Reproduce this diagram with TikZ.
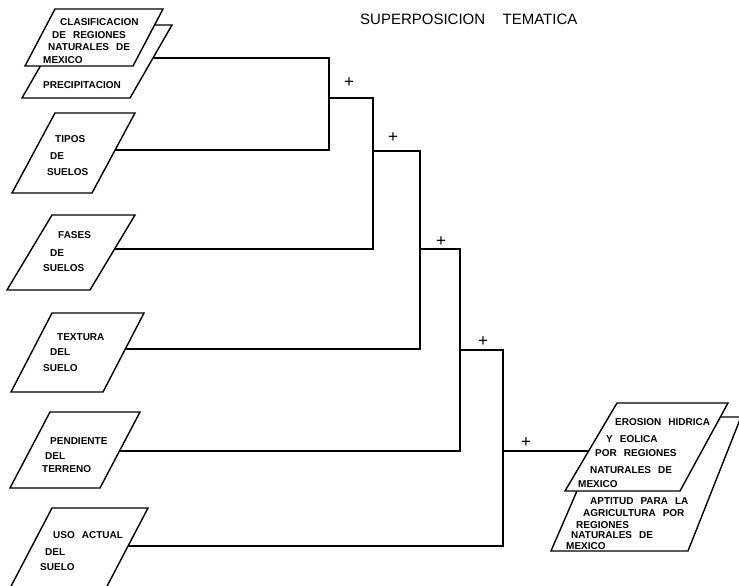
\documentclass[tikz,border=0pt]{standalone}
\usepackage{fontspec}
\setmainfont{Liberation Sans}
\usepackage{tikz}
\usetikzlibrary{positioning}
\newcommand\lblfont{\fontsize{10}{12}\selectfont\bfseries\spaceskip=7pt plus 1pt minus 1pt\relax}
\newcommand\titfont{\fontsize{15}{17}\selectfont}

\begin{document}
\begin{tikzpicture}[x=1pt, y=-1pt, node distance=0.1cm,
  conn/.style={line width=2.3pt},
  sheet/.style={line width=1.4pt, fill=white},
  lbl/.style={anchor=west, inner sep=0pt, font=\lblfont},
  sgn/.style={inner sep=0pt, font=\fontsize{17}{17}\selectfont}]

\useasboundingbox (0,0) rectangle (739,586);

% title
\node [anchor=west, inner sep=0pt, font=\titfont] (tit1) at (360,19) {SUPERPOSICION};
\node [right = 17pt of tit1, inner sep=0pt, font=\titfont] (tit2) {TEMATICA};

% first pair of sheets
\draw [sheet] (64,25) -- (172,25) -- (130,98) -- (22,98) -- cycle;
\node [lbl] (prec) at (43,85) {PRECIPITACION};
\draw [sheet] (55,9) -- (163,9) -- (133,66) -- (25,66) -- cycle;
\node [lbl] (clas1) at (60,22) {CLASIFICACION};
\node [lbl] (clas2) at (52,35) {DE REGIONES};
\node [lbl] (clas3) at (48,47) {NATURALES DE};
\node [lbl] (clas4) at (43,60) {MEXICO};

% other input sheets
\draw [sheet] (55,113) -- (135,113) -- (92,193) -- (12,193) -- cycle;
\node [lbl] (tip1) at (55,139) {TIPOS};
\node [lbl] (tip2) at (50,156) {DE};
\node [lbl] (tip3) at (47,172) {SUELOS};

\draw [sheet] (52,215) -- (135,215) -- (90,290) -- (7,290) -- cycle;
\node [lbl] (fas1) at (58,235) {FASES};
\node [lbl] (fas2) at (50,253) {DE};
\node [lbl] (fas3) at (43,268) {SUELOS};

\draw [sheet] (52,313) -- (144,313) -- (103,392) -- (11,392) -- cycle;
\node [lbl] (tex1) at (57,337) {TEXTURA};
\node [lbl] (tex2) at (50,352) {DEL};
\node [lbl] (tex3) at (43,368) {SUELO};

\draw [sheet] (50,412) -- (140,412) -- (100,488) -- (10,488) -- cycle;
\node [lbl] (pen1) at (50,441) {PENDIENTE};
\node [lbl] (pen2) at (45,456) {DEL};
\node [lbl] (pen3) at (42,469) {TERRENO};

\draw [sheet] (52,508) -- (148,508) -- (104,592) -- (8,592) -- cycle;
\node [lbl] (uso1) at (53,535) {USO ACTUAL};
\node [lbl] (uso2) at (45,552) {DEL};
\node [lbl] (uso3) at (40,567) {SUELO};

% result sheets
\draw [sheet] (609,417) -- (741,417) -- (688,551) -- (551,551) -- cycle;
\node [lbl] (apt1) at (590,501) {APTITUD PARA LA};
\node [lbl] (apt2) at (583,513) {AGRICULTURA POR};
\node [lbl] (apt3) at (576,525) {REGIONES};
\node [lbl] (apt4) at (571,535) {NATURALES DE};
\node [lbl] (apt5) at (566,546) {MEXICO};
\draw [sheet] (617,403) -- (728,403) -- (680,491) -- (565,491) -- cycle;
\node [lbl] (ero1) at (615,422) {EROSION HIDRICA};
\node [lbl] (ero2) at (606,439) {Y EOLICA};
\node [lbl] (ero3) at (595,453) {POR REGIONES};
\node [lbl] (ero4) at (590,470) {NATURALES DE};
\node [lbl] (ero5) at (578,484) {MEXICO};

% ends of the connectors
\coordinate (p0) at (153,58);
\coordinate (p1) at (115,150);
\coordinate (p2) at (115,249);
\coordinate (p3) at (125,349);
\coordinate (p4) at (120,451);
\coordinate (p5) at (128,546);
\coordinate (q) at (589,451);

\coordinate (j1) at (329,98);
\coordinate (j2) at (373,151);
\coordinate (j3) at (420,249);
\coordinate (j4) at (460,350);
\coordinate (j5) at (503,451);

% overlay steps
\draw [conn] (p0) -| (j1) |- (p1);
\draw [conn] (j1) -| (j2) |- (p2);
\draw [conn] (j2) -| (j3) |- (p3);
\draw [conn] (j3) -| (j4) |- (p4);
\draw [conn] (j4) -| (j5) |- (p5);
\draw [conn] (j5) -- (q);

\node [sgn] (s1) at (349,83) {+};
\node [sgn] (s2) at (393,138) {+};
\node [sgn] (s3) at (441,242) {+};
\node [sgn] (s4) at (483,342) {+};
\node [sgn] (s5) at (526,443) {+};

\end{tikzpicture}
\end{document}
